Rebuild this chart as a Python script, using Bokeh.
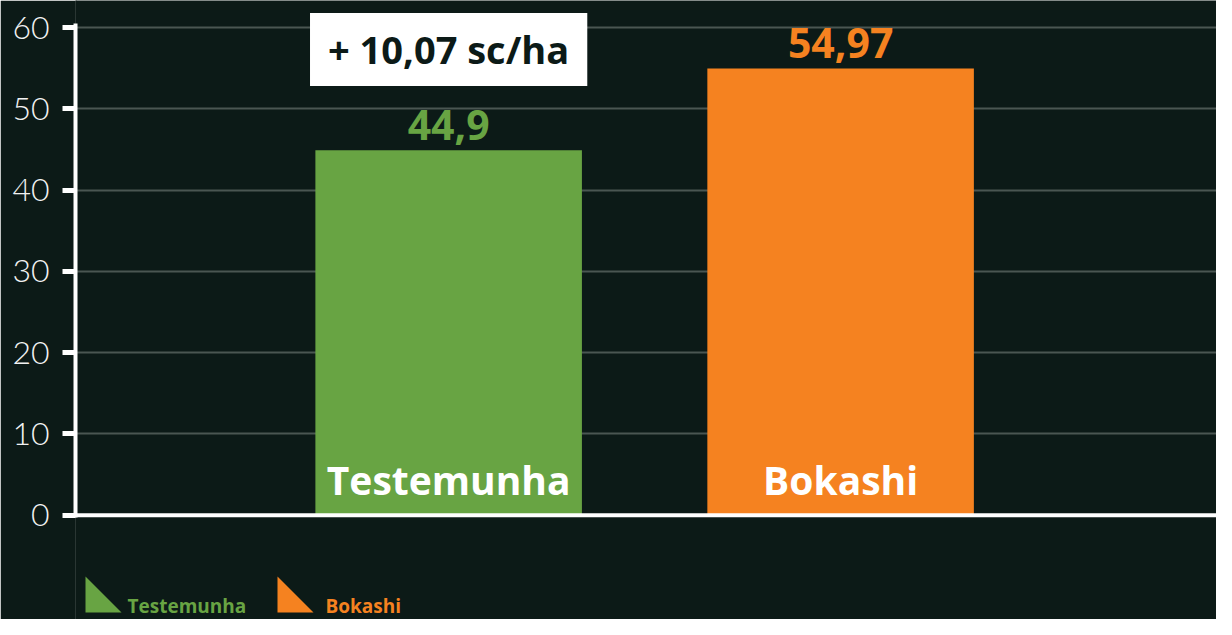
from bokeh.plotting import figure
from bokeh.models import Range1d, FixedTicker, Label, Span, ColumnDataSource
from bokeh.core.properties import value
from bokeh.embed import file_html
from bokeh.resources import INLINE

# ---- data ----
categories = ["Testemunha", "Bokashi"]
values = [44.9, 54.97]
value_labels = ["44,9", "54,97"]
colors = ["#68a443", "#f58220"]
y_ticks = [0, 10, 20, 30, 40, 50, 60]
unit = "sc/ha"

BG = "#0c1a17"
BOLD = "Open Sans"
LIGHT = "Lato Light, Lato"
W, H = 1216, 619

# layout geometry (pixels)
FRAME_LEFT = 75
X0, X1 = -0.952, 1.959
ZERO_PX, PX_PER_UNIT = 514.7, 8.128
Y1 = ZERO_PX / PX_PER_UNIT
Y0 = -(H - ZERO_PX) / PX_PER_UNIT
SXU = (W - FRAME_LEFT) / (X1 - X0)


def xd(px):
    return X0 + (px - FRAME_LEFT) / SXU


def yd(py):
    return Y1 - py / PX_PER_UNIT


diff = values[1] - values[0]
diff_text = "+ " + f"{diff:.2f}".replace(".", ",") + " " + unit

src = ColumnDataSource(dict(
    x=list(range(len(categories))),
    top=values,
    cat=categories,
    vlabel=value_labels,
    color=colors,
))

p = figure(width=W, height=H, output_backend="svg", toolbar_location=None,
           x_range=Range1d(X0, X1), y_range=Range1d(Y0, Y1),
           min_border_left=FRAME_LEFT, min_border_right=0, min_border_top=0, min_border_bottom=0,
           background_fill_color=BG, border_fill_color=BG, outline_line_color=None)

p.xaxis.visible = False
p.xgrid.visible = False
p.ygrid.grid_line_color = "#4a5652"
p.ygrid.grid_line_width = 2

# hide the hairline seam between border and frame fills
p.add_layout(Span(location=xd(FRAME_LEFT), dimension="height", line_color=BG,
                  line_width=3, level="underlay"))

ya = p.yaxis[0]
ya.ticker = FixedTicker(ticks=y_ticks)
ya.bounds = (yd(517), yd(23))
ya.axis_line_color = "white"
ya.axis_line_width = 4
ya.major_tick_line_color = "white"
ya.major_tick_line_width = 5
ya.major_tick_out = 13
ya.major_tick_in = 0
ya.minor_tick_line_color = None
ya.major_label_text_color = "#f2f2f2"
ya.major_label_text_font = LIGHT
ya.major_label_text_font_size = "32px"
ya.major_label_standoff = 13

p.vbar(x="x", top="top", bottom=0, width=0.68, fill_color="color",
       line_color=None, source=src)

p.add_layout(Span(location=0, dimension="width", line_color="white", line_width=4))

p.text(x="x", y="top", text="vlabel", text_color="color", text_font=value(BOLD),
       text_font_style="bold", text_font_size="41px", text_align="center",
       text_baseline="alphabetic", y_offset=-25, source=src)

p.text(x="x", y=0, text="cat", text_color="white", text_font=value(BOLD),
       text_font_style="bold", text_font_size="39px", text_align="center",
       text_baseline="alphabetic", y_offset=-36, source=src)

p.add_layout(Label(x=0, y=H - 49, x_units="data", y_units="screen", text=diff_text,
                   text_align="center", text_baseline="middle",
                   text_font=BOLD, text_font_style="bold", text_font_size="38px",
                   text_color=BG, background_fill_color="white",
                   padding=dict(left=18, right=18, top=10, bottom=11)))

# ---- legend (below the axis) ----
icon_px = [85, 277]
text_px = [127, 325]
icon_w, icon_top, icon_bot = 36, 576, 612
p.patches(xs=[[xd(a), xd(a), xd(a + icon_w)] for a in icon_px],
          ys=[[yd(icon_top), yd(icon_bot), yd(icon_bot)] for _ in icon_px],
          fill_color=colors, line_color=None)
p.text(x=[xd(a) for a in text_px], y=[yd(icon_bot)] * len(text_px), text=categories,
       text_color=colors, text_font=value(BOLD), text_font_style="bold",
       text_font_size="19px", text_align="left", text_baseline="alphabetic", y_offset=-7)

open("out.html", "w").write(file_html(p, INLINE))
